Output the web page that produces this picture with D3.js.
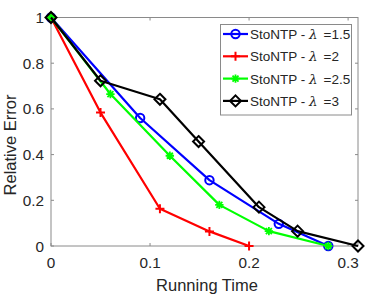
<!DOCTYPE html>
<html>
<head>
<meta charset="utf-8">
<script src="https://cdn.jsdelivr.net/npm/d3@7"></script>
<style>
  body { margin: 0; background: #fff; }
  text { font-family: "Liberation Sans", Arial, sans-serif; fill: #262626; }
</style>
</head>
<body>
<div id="graph"></div>
<script>
// data
const lambdas = ["1.5", "2", "2.5", "3"];
const timeL15 = [0, 0.09, 0.16, 0.23, 0.28];
const errL15  = [1, 0.56, 0.288, 0.097, 0];
const timeL2  = [0, 0.05, 0.11, 0.16, 0.20];
const errL2   = [1, 0.584, 0.163, 0.064, 0];
const timeL25 = [0, 0.06, 0.12, 0.17, 0.22, 0.28];
const errL25  = [1, 0.665, 0.395, 0.18, 0.065, 0];
const timeL3  = [0, 0.05, 0.11, 0.149, 0.21, 0.249, 0.31];
const errL3   = [1, 0.723, 0.642, 0.457, 0.17, 0.065, 0];
const xTicks = [0, 0.1, 0.2, 0.3];
const yTicks = [0, 0.2, 0.4, 0.6, 0.8, 1];

const series = [
  {x: timeL15, y: errL15, color: "#0000ff", marker: "circle"},
  {x: timeL2,  y: errL2,  color: "#ff0000", marker: "plus"},
  {x: timeL25, y: errL25, color: "#00ff00", marker: "star"},
  {x: timeL3,  y: errL3,  color: "#000000", marker: "diamond"}
];

// set the dimensions and margins of the graph
const W = 365, H = 298;
const margin = {top: 17.5, right: 7, bottom: 52, left: 51},
    width = W - margin.left - margin.right,
    height = H - margin.top - margin.bottom;

const svg = d3.select("#graph")
  .append("svg")
    .attr("width", W)
    .attr("height", H);

const g = svg.append("g")
    .attr("transform", `translate(${margin.left},${margin.top})`);

const x = d3.scaleLinear().domain([0, 0.31]).range([0, width]);
const y = d3.scaleLinear().domain([0, 1]).range([height, 0]);

const axisColor = "#8a8a8a";
const tl = 3;

// box
g.append("rect")
  .attr("width", width).attr("height", height)
  .attr("fill", "none").attr("stroke", axisColor).attr("stroke-width", 1);

// ticks (inward, on all four sides)
xTicks.forEach(t => {
  g.append("line").attr("x1", x(t)).attr("x2", x(t)).attr("y1", height).attr("y2", height - tl)
    .attr("stroke", axisColor);
  g.append("line").attr("x1", x(t)).attr("x2", x(t)).attr("y1", 0).attr("y2", tl)
    .attr("stroke", axisColor);
  g.append("text").attr("x", x(t)).attr("y", height + 21.5)
    .attr("text-anchor", "middle").attr("font-size", 15.3)
    .text(t === 0 ? "0" : d3.format(".1f")(t));
});
yTicks.forEach(t => {
  g.append("line").attr("x1", 0).attr("x2", tl).attr("y1", y(t)).attr("y2", y(t))
    .attr("stroke", axisColor);
  g.append("line").attr("x1", width).attr("x2", width - tl).attr("y1", y(t)).attr("y2", y(t))
    .attr("stroke", axisColor);
  g.append("text").attr("x", -7).attr("y", y(t) + 5.5)
    .attr("text-anchor", "end").attr("font-size", 15.3)
    .text(t === 0 ? "0" : (t === 1 ? "1" : d3.format(".1f")(t)));
});

// axis labels
svg.append("text")
  .attr("x", 207).attr("y", 291)
  .attr("text-anchor", "middle").attr("font-size", 16.5)
  .text("Running Time");
svg.append("text")
  .attr("transform", "translate(16,145) rotate(-90)")
  .attr("text-anchor", "middle").attr("font-size", 16.5)
  .text("Relative Error");

// marker drawing
function drawMarker(sel, type, color, cx, cy) {
  if (type === "circle") {
    sel.append("circle").attr("cx", cx).attr("cy", cy).attr("r", 4.2)
      .attr("fill", "none").attr("stroke", color).attr("stroke-width", 2);
  } else if (type === "plus") {
    const s = 4.5;
    sel.append("path").attr("d", `M${cx - s},${cy}H${cx + s}M${cx},${cy - s}V${cy + s}`)
      .attr("stroke", color).attr("stroke-width", 2);
  } else if (type === "star") {
    const s = 4.2, d = 3;
    sel.append("path")
      .attr("d", `M${cx - s},${cy}H${cx + s}M${cx},${cy - s}V${cy + s}M${cx - d},${cy - d}L${cx + d},${cy + d}M${cx - d},${cy + d}L${cx + d},${cy - d}`)
      .attr("stroke", color).attr("stroke-width", 1.8);
  } else if (type === "diamond") {
    const s = 5.5;
    sel.append("path").attr("d", `M${cx},${cy - s}L${cx + s},${cy}L${cx},${cy + s}L${cx - s},${cy}Z`)
      .attr("fill", "none").attr("stroke", color).attr("stroke-width", 2);
  }
}

const line = d3.line().x(d => x(d[0])).y(d => y(d[1]));

series.forEach(s => {
  const pts = s.x.map((v, i) => [v, s.y[i]]);
  g.append("path").datum(pts)
    .attr("d", line)
    .attr("fill", "none").attr("stroke", s.color).attr("stroke-width", 2.2)
    .attr("stroke-linejoin", "round");
  pts.forEach(p => drawMarker(g, s.marker, s.color, x(p[0]), y(p[1])));
});

// legend
const lg = svg.append("g");
lg.append("rect")
  .attr("x", 220.5).attr("y", 24.5).attr("width", 131).attr("height", 90.5)
  .attr("fill", "#fff").attr("stroke", axisColor).attr("stroke-width", 1);
series.forEach((s, i) => {
  const ly = 34 + i * 22.3;
  lg.append("line").attr("x1", 223).attr("x2", 248).attr("y1", ly).attr("y2", ly)
    .attr("stroke", s.color).attr("stroke-width", 2.2);
  drawMarker(lg, s.marker, s.color, 235.5, ly);
  const t = lg.append("text").attr("x", 250).attr("y", ly + 5).attr("font-size", 13.5);
  t.append("tspan").text("StoNTP - ");
  t.append("tspan").attr("font-style", "italic").attr("font-family", "DejaVu Serif").text("\u03bb");
  t.append("tspan").attr("dx", 6).text("=" + lambdas[i]);
});
</script>
</body>
</html>
